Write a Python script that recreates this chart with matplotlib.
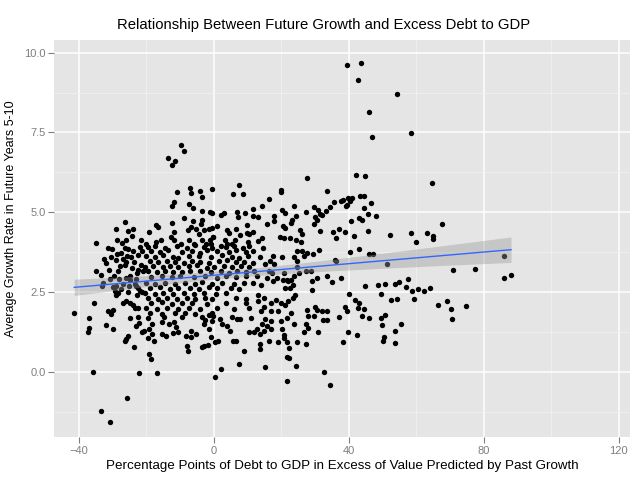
import numpy as np
import matplotlib.pyplot as plt

# левое облако (x < -20)
x_left = [-26.3, -29.1, -25.6, -24.0, -28.6, -26.1, -24.4, -34.9, -21.7,
          -31.4, -30.3, -27.4, -24.1, -21.3, -26.1, -26.4, -27.9, -28.4, -24.4,
          -22.4, -22.9, -21.0, -35.1, -30.8, -33.1, -28.9, -26.9, -25.2, -23.4,
          -22.4, -28.4, -28.9, -25.4, -22.9, -35.4, -27.0, -26.0, -24.0, -23.4,
          -22.4, -25.0, -31.4, -29.9, -41.4, -30.6,
          -37.0, -37.0, -37.3, -32.1, -29.9, -25.0, -22.4, -22.2, -23.2, -21.4,
          -20.7, -25.4, -26.0, -26.4, -23.6, -35.8, -22.2, -33.6, -30.8, -25.7,
          -33.5, -32.0, -30.5, -29.5, -28.0, -27.0, -25.8, -24.8, -23.8, -22.6,
          -21.5, -33.0, -31.0, -29.0, -27.5, -26.5, -25.0, -23.0, -21.8, -30.0,
          -28.6, -26.2, -24.5, -22.0, -32.5, -29.3, -27.2, -25.5, -23.2, -21.2]
y_left = [4.70, 4.47, 4.42, 4.49, 4.12, 4.15, 4.25, 4.04, 4.12,
          3.90, 3.86, 3.73, 3.78, 3.80, 3.46, 3.36, 3.31, 3.15, 3.25,
          3.20, 3.10, 3.17, 3.18, 2.92, 2.68, 2.71, 2.75, 2.68, 2.75,
          2.63, 2.47, 2.42, 2.52, 2.42, 2.16, 2.16, 2.21, 2.10, 2.00,
          2.00, 2.16, 1.90, 1.95, 1.84, 1.82,
          1.68, 1.38, 1.25, 1.49, 1.34, 1.70, 1.73, 1.54, 1.43, 1.25,
          1.30, 1.14, 1.04, 0.96, 0.79, 0.00, -0.03, -1.21, -1.56, -0.80,
          3.05, 3.40, 3.60, 3.02, 2.90, 3.55, 3.62, 2.88, 3.45, 3.65,
          3.35, 2.80, 3.20, 3.52, 2.60, 3.88, 3.02, 2.90, 2.55, 2.65,
          3.70, 2.95, 3.60, 3.92, 3.55, 2.55, 4.05, 3.85, 2.70, 2.50]

# плотное ядро (x от -20 до 12, y от 1.8 до 4)
x_core = [-19.4, -17.5, -14.5, -11.0, -8.0, -5.5, -3.0, -0.5, 2.0, 3.5, 6.0, 8.5, 10.5,
          -18.5, -16.0, -13.5, -9.5, -6.5, -4.0, -2.0, 1.0, 4.5, 6.5, 9.5, 11.5,
          -20.0, -17.5, -15.0, -12.0, -10.5, -7.5, -4.5, -1.0, 2.5, 5.5, 7.5, 10.0,
          -19.0, -16.5, -14.0, -11.5, -9.0, -6.5, -4.0, -1.5, 1.5, 4.0, 6.5, 9.0, 11.5,
          -20.3, -18.0, -15.0, -13.0, -10.5, -7.5, -5.0, -2.0, 0.0, 3.0, 5.5, 8.0, 10.5,
          -19.5, -17.0, -14.5, -12.0, -9.5, -7.0, -4.0, -1.0, 2.0, 4.5, 7.0, 9.5, 12.0,
          -18.5, -15.5, -12.5, -10.0, -6.0, -2.5, 1.0, 3.5, 6.5, 9.5,
          -20.0, -17.5, -14.5, -11.5, -8.5, -5.5, -3.5, -0.5, 2.5, 6.0, 9.0, 11.5,
          -19.0, -16.0, -13.0, -10.5, -7.0, -4.5, -1.5, 1.0, 5.0, 7.5,
          -20.3, -17.5, -15.0, -12.0, -9.0, -6.0, -3.0, 0.5, 3.5,
          -19.5, -16.5, -14.0, -11.0, -8.0, -5.5, -2.5, -0.5, 6.5, 9.5,
          -18.5, -15.5, -12.5, -9.5, -6.5, -2.0, 3.5, 9.5,
          -20.0, -17.0, -14.0, -10.5, -7.5, -4.0, 1.0, 6.0, 10.5,
          -19.0, -15.5, -11.5, -8.5, -5.5, -0.5]
y_core = [3.92, 3.96, 3.90, 3.95, 3.89, 3.97, 3.93, 3.88, 3.95, 3.91, 3.96, 3.90, 3.94,
          3.80, 3.76, 3.82, 3.77, 3.79, 3.74, 3.81, 3.78, 3.75, 3.83, 3.77, 3.80,
          3.63, 3.60, 3.65, 3.61, 3.58, 3.64, 3.62, 3.59, 3.66, 3.61, 3.57, 3.63,
          3.47, 3.44, 3.49, 3.45, 3.42, 3.48, 3.46, 3.43, 3.47, 3.50, 3.44, 3.46, 3.41,
          3.30, 3.33, 3.28, 3.32, 3.29, 3.31, 3.34, 3.27, 3.30, 3.33, 3.29, 3.32, 3.28,
          3.16, 3.13, 3.17, 3.14, 3.12, 3.18, 3.15, 3.13, 3.16, 3.11, 3.17, 3.14, 3.15,
          2.98, 3.01, 2.97, 3.00, 2.99, 3.02, 2.96, 3.00, 2.98, 3.01,
          2.79, 2.76, 2.80, 2.77, 2.78, 2.75, 2.81, 2.77, 2.79, 2.76, 2.80, 2.78,
          2.62, 2.65, 2.61, 2.64, 2.63, 2.60, 2.66, 2.62, 2.64, 2.61,
          2.48, 2.45, 2.49, 2.46, 2.47, 2.44, 2.48, 2.46, 2.49,
          2.32, 2.29, 2.33, 2.30, 2.31, 2.28, 2.32, 2.30, 2.31, 2.29,
          2.15, 2.18, 2.14, 2.17, 2.16, 2.13, 2.17, 2.15,
          2.01, 1.98, 2.02, 1.99, 2.00, 1.97, 2.01, 1.99, 2.02,
          1.85, 1.83, 1.86, 1.84, 1.82, 1.85]

# центр: выше и ниже ядра
x_mid = [-9.8, -9.0, -13.5, -11.5, -12.3, -7.0, -10.8, -6.8, -4.2, -3.4, -0.6, -11.8,
         -12.5, -7.5, -6.3, -3.4, -1.1, -19.2, -17.2, -16.7, -12.3, -11.8, -8.8, -6.3,
         -3.4, -3.9, -7.8, -6.8, -5.3, -4.4, -2.9, -1.4, -0.4, -20.2, -17.2, -15.7,
         -12.8, -11.8, -9.8, -7.3, -5.8, -3.4, -0.9,
         7.3, 5.8, 8.6, 11.7, -0.5, 2.0, 3.1, 6.9, 7.2, 9.3, 11.7, 9.8, 9.8, 6.6, 3.8,
         4.6, 0.8, -0.7, 7.6, 6.3, 11.7, 10.5, 3.3, 3.8, -0.2, -1.2, -2.2, 5.3, 10.2,
         -18.3, -19.4, -19.3, -18.3, -17.7, -19.5, -15.3, -14.3, -19.3, -18.5, -17.0,
         -14.8, -15.3, -11.8, -3.4, -2.5, -2.9, -1.5, -1.0, -2.9, -3.4, -1.8, -7.9,
         -7.6, -8.4, -6.9, -5.4, -6.7, -12.0, -10.6, -13.3, -11.3, -9.4, -1.5,
         5.3, 6.8, 7.8, 11.1, -0.2, 1.8, 2.3, 3.8, 4.8, -0.7, 10.3, 11.8, 5.8, 6.6,
         8.8, 7.5, 2.0, 0.3, 0.3, 1.3]
y_mid = [7.12, 6.93, 6.70, 6.61, 6.47, 5.76, 5.63, 5.60, 5.66, 5.48, 5.73, 5.32,
         5.21, 5.26, 5.15, 5.05, 5.02, 4.39, 4.60, 4.54, 4.68, 4.39, 4.83, 4.72,
         4.76, 4.65, 4.44, 4.54, 4.49, 4.33, 4.44, 4.49, 4.23, 4.01, 4.07, 4.12,
         4.23, 4.12, 4.01, 4.12, 4.01, 4.12, 4.01,
         5.85, 5.57, 5.57, 5.11, 4.97, 4.91, 4.97, 5.02, 4.84, 4.97, 4.88, 4.60, 4.36,
         4.49, 4.46, 4.35, 4.56, 4.51, 4.28, 4.12, 4.38, 4.33, 4.15, 4.01, 4.22, 4.12,
         4.01, 4.01, 4.06,
         1.52, 1.68, 1.36, 1.20, 0.96, 1.07, 1.20, 1.14, 0.56, 0.42, -0.03,
         1.73, 1.57, 1.57, 1.73, 1.62, 1.52, 1.36, 1.09, 0.82, 0.79, 0.84, 0.82,
         0.66, 1.14, 1.30, 1.20, 1.09, 1.22, 1.25, 1.52, 1.41, 1.73, 1.78,
         1.74, 1.66, 1.66, 1.69, 1.77, 1.66, 1.52, 1.45, 1.29, 1.61, 1.27, 1.27, 0.96,
         0.96, 0.66, 0.26, 0.09, -0.16, 0.93, 0.98]

# x от 12 до 40
x_right = [27.5, 20.0, 20.0, 33.6, 16.2, 14.2, 23.9, 35.6, 37.8, 38.4, 39.1, 34.3,
           33.1, 27.3, 29.6, 30.8, 20.2, 21.2, 13.2, 17.7, 17.7, 24.3, 23.2, 22.9,
           30.1, 30.6, 32.1, 31.6, 29.8, 15.7, 20.5, 21.2, 25.5, 26.2, 31.6, 35.4,
           37.2, 39.0, 36.3, 19.5, 20.7, 22.7, 24.2, 25.9, 14.2, 13.2,
           14.7, 24.7, 26.2, 27.7, 26.7, 29.4, 31.1, 36.1, 20.2, 23.9, 24.7, 17.4,
           17.7, 13.7, 15.2, 16.7, 17.2, 16.2, 24.7, 28.9, 20.7, 23.7, 25.2, 27.2,
           12.7, 15.7, 18.7, 21.7, 30.6, 33.6, 37.6, 36.0,
           17.5, 14.0, 13.0, 15.0, 13.0, 15.0, 17.0, 18.5, 20.0, 21.0, 22.0, 23.5,
           24.0, 20.5, 22.0, 23.0, 23.5, 22.5, 21.0, 29.0, 29.0, 35.0, 30.0, 30.5,
           32.0, 27.5, 23.0, 33.4, 19.0, 17.0, 14.0, 38.9, 39.4,
           15.3, 16.8, 14.3, 15.8, 14.8, 13.8, 12.8, 16.8, 20.0, 21.8, 23.8, 29.8,
           27.8, 32.3, 33.6, 27.3, 27.8, 26.8, 31.0, 37.1, 38.3, 13.8, 13.8, 16.3,
           19.0, 20.8, 21.8, 22.3, 21.8, 22.3, 24.6, 27.4, 24.3, 15.1, 21.6, 32.6,
           34.3, 20.8, 20.3]
y_right = [6.06, 5.71, 5.64, 5.66, 5.41, 5.21, 5.21, 5.33, 5.34, 5.39, 5.20, 5.18,
           5.05, 5.00, 5.18, 5.07, 5.07, 4.99, 4.84, 4.88, 4.73, 4.89, 4.76, 4.67,
           4.84, 4.76, 4.91, 4.95, 4.65, 4.65, 4.56, 4.52, 4.44, 4.33, 4.41, 4.40,
           4.49, 4.38, 4.20, 4.22, 4.20, 4.20, 4.15, 4.06, 4.19, 4.10,
           3.87, 3.80, 3.80, 3.74, 3.64, 3.69, 3.82, 3.48, 3.59, 3.59, 3.48, 3.64,
           3.37, 3.61, 3.37, 3.48, 3.11, 3.16, 3.29, 3.18, 3.11, 3.00, 3.11, 3.16,
           3.00, 2.95, 2.95, 2.89, 2.95, 3.00, 2.95, 3.50,
           2.84, 2.73, 2.42, 2.31, 2.21, 2.05, 2.16, 2.26, 2.16, 2.10, 2.21, 2.31,
           2.42, 2.89, 2.84, 2.89, 2.73, 2.63, 2.63, 2.84, 2.58, 2.82, 2.05, 1.95,
           1.90, 1.95, 1.84, 1.90, 1.90, 1.90, 1.90, 2.05, 1.90,
           1.66, 1.61, 1.50, 1.45, 1.29, 1.19, 1.35, 1.35, 1.61, 1.69, 1.50, 1.77,
           1.77, 1.63, 1.63, 1.50, 1.38, 1.24, 1.27, 1.71, 0.93, 0.87, 0.72, 0.98,
           0.93, 1.08, 0.93, 0.77, 0.47, 0.45, 0.95, 0.89, 0.19, 0.16, -0.28, 0.00,
           -0.41, 1.16, 1.35]

# x больше 39
x_far = [39.4, 43.7, 42.8, 54.3, 45.9, 58.5, 47.0, 42.1, 44.8, 64.7, 39.9, 40.8,
         40.4, 43.2, 44.5, 46.6, 39.4, 44.5, 45.6, 48.0, 43.1, 44.0, 40.7, 67.7,
         45.8, 52.3, 58.5, 63.2, 65.0, 41.6, 65.0,
         59.9, 40.5, 43.0, 46.1, 47.2, 51.3, 85.9, 70.9, 77.5, 85.9, 88.1, 44.9,
         48.8, 50.8, 53.6, 55.0, 57.6, 57.0, 58.8, 60.4, 62.4, 64.2, 40.2, 49.5,
         41.9, 43.1, 42.6, 44.4, 52.6, 54.4, 59.4, 66.4, 69.2, 70.4, 74.7, 70.7,
         43.9, 46.1, 49.5, 50.6, 49.9, 55.6, 53.7, 39.7, 42.3, 50.3, 50.2, 53.8]
y_far = [9.62, 9.66, 9.14, 8.70, 8.15, 7.49, 7.35, 6.17, 6.15, 5.92, 5.44, 5.44,
         5.37, 5.50, 5.50, 5.30, 5.24, 5.15, 4.96, 4.89, 4.83, 4.75, 4.72, 4.63,
         4.42, 4.30, 4.34, 4.34, 4.26, 4.25, 4.16,
         4.06, 3.77, 3.85, 3.70, 3.70, 3.38, 3.64, 3.20, 3.22, 2.96, 3.03, 2.71,
         2.73, 2.76, 2.75, 2.81, 2.91, 2.67, 2.55, 2.59, 2.55, 2.64, 2.46, 2.43,
         2.25, 2.15, 2.00, 1.98, 2.26, 2.28, 2.29, 2.09, 2.21, 1.96, 2.08, 1.65,
         1.76, 1.70, 1.70, 1.79, 1.49, 1.51, 1.28, 1.26, 1.17, 1.11, 0.96, 0.91]

x_ticks = [-40, 0, 40, 80, 120]
y_ticks = [0.0, 2.5, 5.0, 7.5, 10.0]
y_tick_labels = ["0.0", "2.5", "5.0", "7.5", "10.0"]

x = np.array(x_left + x_core + x_mid + x_right + x_far)
y = np.array(y_left + y_core + y_mid + y_right + y_far)

plt.rcParams['font.family'] = ['Liberation Sans', 'DejaVu Sans']

fig = plt.figure(figsize=(6.4, 4.8), dpi=100)
ax = fig.add_axes([0.0844, 0.089, 0.8996, 0.828])
ax.set_facecolor('#E5E5E5')

# линейная регрессия + доверительный интервал 95%
b, a = np.polyfit(x, y, 1)
n = len(x)
resid = y - (a + b * x)
s = np.sqrt(np.sum(resid ** 2) / (n - 2))
xs = np.linspace(x.min(), x.max(), 100)
se = s * np.sqrt(1 / n + (xs - x.mean()) ** 2 / np.sum((x - x.mean()) ** 2))
ax.fill_between(xs, a + b * xs - 1.96 * se, a + b * xs + 1.96 * se,
                color='#999999', alpha=0.4, lw=0, zorder=3)
ax.plot(xs, a + b * xs, color='#3366FF', lw=1, zorder=4)

ax.scatter(x, y, s=15, color='black', lw=0, zorder=2)

ax.set_xlim(-47.4, 123.3)
ax.set_ylim(-2.04, 10.4)
ax.set_xticks(x_ticks)
ax.set_yticks(y_ticks)
ax.set_yticklabels(y_tick_labels)
ax.set_xticks([-20, 20, 60, 100], minor=True)
ax.set_yticks([-1.25, 1.25, 3.75, 6.25, 8.75], minor=True)
ax.grid(which='major', color='white', lw=1.1, zorder=0)
ax.grid(which='minor', color='#F2F2F2', lw=0.5, zorder=0)
ax.set_axisbelow(True)
for sp in ax.spines.values():
    sp.set_visible(False)
ax.tick_params(which='major', length=4, width=0.8, color='#7F7F7F',
               labelcolor='#7F7F7F', labelsize=8, pad=2)
ax.tick_params(which='minor', length=0)

# заголовок по центру всей картинки (как в ggplot)
fig.text(0.506, 0.948, "Relationship Between Future Growth and Excess Debt to GDP",
         fontsize=10.7, ha='center', va='center')
ax.set_xlabel("Percentage Points of Debt to GDP in Excess of Value Predicted by Past Growth",
              fontsize=9.65, labelpad=3)
ax.set_ylabel("Average Growth Rate in Future Years 5-10", fontsize=9.0)
ax.yaxis.set_label_coords(-0.064, 0.55)

fig.savefig("out.png", dpi=100)
